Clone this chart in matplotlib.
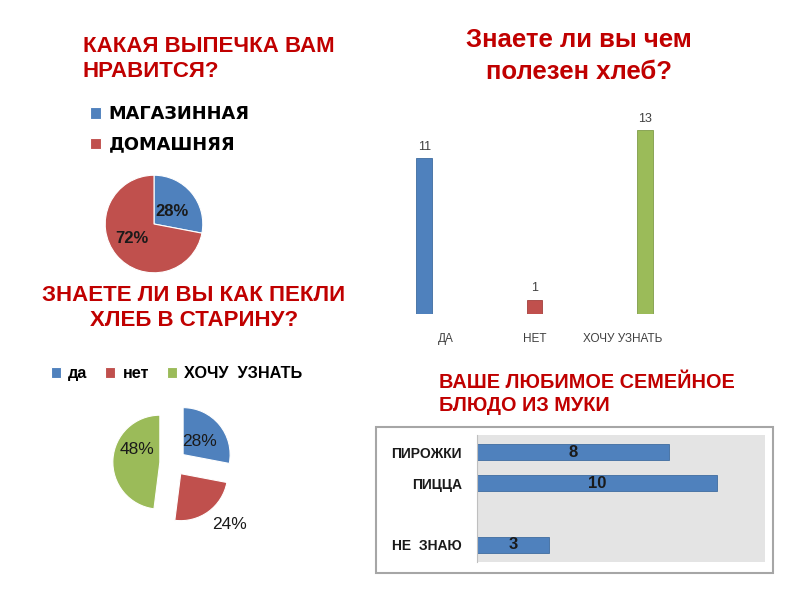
import matplotlib
matplotlib.use("Agg")
import matplotlib.pyplot as plt
import matplotlib.transforms as mtransforms
import numpy as np
from matplotlib.patches import Rectangle

plt.rcParams['font.family'] = ['Liberation Sans', 'DejaVu Sans']

BLUE = "#4F81BD"
RED = "#C0504D"
GREEN = "#9BBB59"
TITLE_RED = "#C00000"

# pie 1: what baking do you like
bake_labels = ["МАГАЗИННАЯ", "ДОМАШНЯЯ"]
bake_share = [28, 72]

# pie 2: do you know how bread was baked in old times
old_labels = ["да", "нет", "ХОЧУ  УЗНАТЬ"]
old_share = [28, 24, 48]

# column chart: do you know why bread is useful
useful_cats = ["ДА", "НЕТ", "ХОЧУ УЗНАТЬ"]
useful_vals = [11, 1, 13]

# bar chart: favourite family flour dish
dish_cats = ["ПИРОЖКИ", "ПИЦЦА", "", "НЕ  ЗНАЮ"]
dish_vals = [8, 10, np.nan, 3]

fig = plt.figure(figsize=(8, 6), dpi=100)
fig.patch.set_facecolor("white")

# ---- titles
fig.text(83 / 800, 1 - 36 / 600, "КАКАЯ ВЫПЕЧКА ВАМ\nНРАВИТСЯ?", ha="left", va="top",
         fontsize=16, fontweight="bold", color=TITLE_RED, linespacing=1.22)
fig.text(194 / 800, 1 - 285 / 600, "ЗНАЕТЕ ЛИ ВЫ КАК ПЕКЛИ\nХЛЕБ В СТАРИНУ?", ha="center", va="top",
         fontsize=16, fontweight="bold", color=TITLE_RED, linespacing=1.25)
fig.text(579 / 800, 1 - 28 / 600, "Знаете ли вы чем\nполезен хлеб?", ha="center", va="top",
         fontsize=18.5, fontweight="bold", color=TITLE_RED, linespacing=1.4)
fig.text(439 / 800, 1 - 373 / 600, "ВАШЕ ЛЮБИМОЕ СЕМЕЙНОЕ\nБЛЮДО ИЗ МУКИ", ha="left", va="top",
         fontsize=14.3, fontweight="bold", color=TITLE_RED, linespacing=1.28)

# ---- pie 1
ax1 = fig.add_axes([0.11625, 0.525, 0.1525, 0.2033])
w1, _ = ax1.pie(bake_share, colors=[BLUE, RED], startangle=90, counterclock=False,
                wedgeprops=dict(edgecolor="white", linewidth=0.8))
for w, v, d in zip(w1, bake_share, [0.45, 0.55]):
    th = np.deg2rad((w.theta1 + w.theta2) / 2 - 6)
    ax1.text(d * np.cos(th), d * np.sin(th), f"{v}%", ha="center", va="center",
             fontsize=12, fontweight="bold", color="#1a1a1a")
ax1.set_xlim(-1.25, 1.25)
ax1.set_ylim(-1.25, 1.25)
ax1.legend(w1, bake_labels, loc="upper left", bbox_to_anchor=(81 / 800, 1 - 96 / 600),
           bbox_transform=fig.transFigure, frameon=False, borderpad=0,
           prop=dict(family="DejaVu Sans", weight="bold", size=12.8),
           handlelength=0.65, handleheight=0.65, handletextpad=0.4, labelspacing=0.72)

# ---- pie 2 (exploded)
ax2 = fig.add_axes([0.1281, 0.1108, 0.17625, 0.235])
w2, _ = ax2.pie(old_share, colors=[BLUE, RED, GREEN], startangle=90, counterclock=False,
                explode=[0.28] * 3, wedgeprops=dict(edgecolor="white", linewidth=0.8))
for w, v, d, da in zip(w2, old_share, [0.45, 1.5, 0.55], [0, 8, -25]):
    th = np.deg2rad((w.theta1 + w.theta2) / 2 + da)
    cx, cy = w.center
    ax2.text(cx + d * np.cos(th), cy + d * np.sin(th), f"{v}%", ha="center", va="center",
             fontsize=12.5, color="#1a1a1a")
ax2.set_xlim(-1.5, 1.5)
ax2.set_ylim(-1.5, 1.5)
ax2.legend(w2, old_labels, loc="upper left", bbox_to_anchor=(43 / 800, 1 - 358 / 600),
           bbox_transform=fig.transFigure, frameon=False, borderpad=0, ncol=3,
           prop=dict(weight="bold", size=11.7),
           handlelength=0.6, handleheight=0.6, handletextpad=0.45, columnspacing=1.1)

# ---- column chart
ax3 = fig.add_axes([369 / 800, 1 - 314 / 600, 331 / 800, 198 / 600])
x = np.arange(len(useful_cats))
bars = ax3.bar(x, useful_vals, width=0.145, color=[BLUE, RED, GREEN],
               edgecolor=["#3f6c9f", "#a33f3c", "#7f9c48"], linewidth=0.6)
ax3.bar_label(bars, padding=4, fontsize=9, color="#404040")
ax3.set_xlim(-0.5, 2.5)
ax3.set_ylim(0, 14)
ax3.set_xticks(x)
ax3.set_xticklabels(useful_cats, fontsize=8.5, color="#404040")
ax3.tick_params(axis="x", length=0, pad=14)
# category labels in the source are not centred under their columns
for lab, dx in zip(ax3.get_xticklabels(), [22, 0, -22]):
    lab.set_transform(lab.get_transform() +
                      mtransforms.ScaledTranslation(dx / 100, 0, fig.dpi_scale_trans))
ax3.set_yticks([])
for s in ax3.spines.values():
    s.set_visible(False)
ax3.patch.set_alpha(0)

# ---- bar chart with frame
fig.patches.append(Rectangle((376 / 800, 1 - 573 / 600), 397 / 800, 146 / 600,
                             transform=fig.transFigure, facecolor="white",
                             edgecolor="#a6a6a6", linewidth=1.5, zorder=-1))
ax4 = fig.add_axes([477 / 800, 1 - 562 / 600, 288 / 800, 127 / 600])
ax4.set_facecolor("#e4e4e4")
y = np.arange(len(dish_cats))
hb = ax4.barh(y, np.nan_to_num(dish_vals), height=0.52, color=BLUE,
              edgecolor="#3f6c9f", linewidth=0.6)
ax4.bar_label(hb, labels=["" if np.isnan(v) else f"{v:g}" for v in dish_vals],
              label_type="center", fontsize=12, fontweight="bold", color="#1a1a1a")
ax4.set_xlim(0, 12)
ax4.set_ylim(3.55, -0.55)
ax4.set_yticks(y)
ax4.set_yticklabels(dish_cats, fontsize=10, fontweight="bold", color="#1a1a1a")
ax4.tick_params(axis="y", length=0, pad=11)
ax4.set_xticks([])
for k in ["top", "right", "bottom"]:
    ax4.spines[k].set_visible(False)
ax4.spines["left"].set_color("#bfbfbf")
ax4.spines["left"].set_linewidth(0.8)

fig.savefig("out.png", dpi=100)
